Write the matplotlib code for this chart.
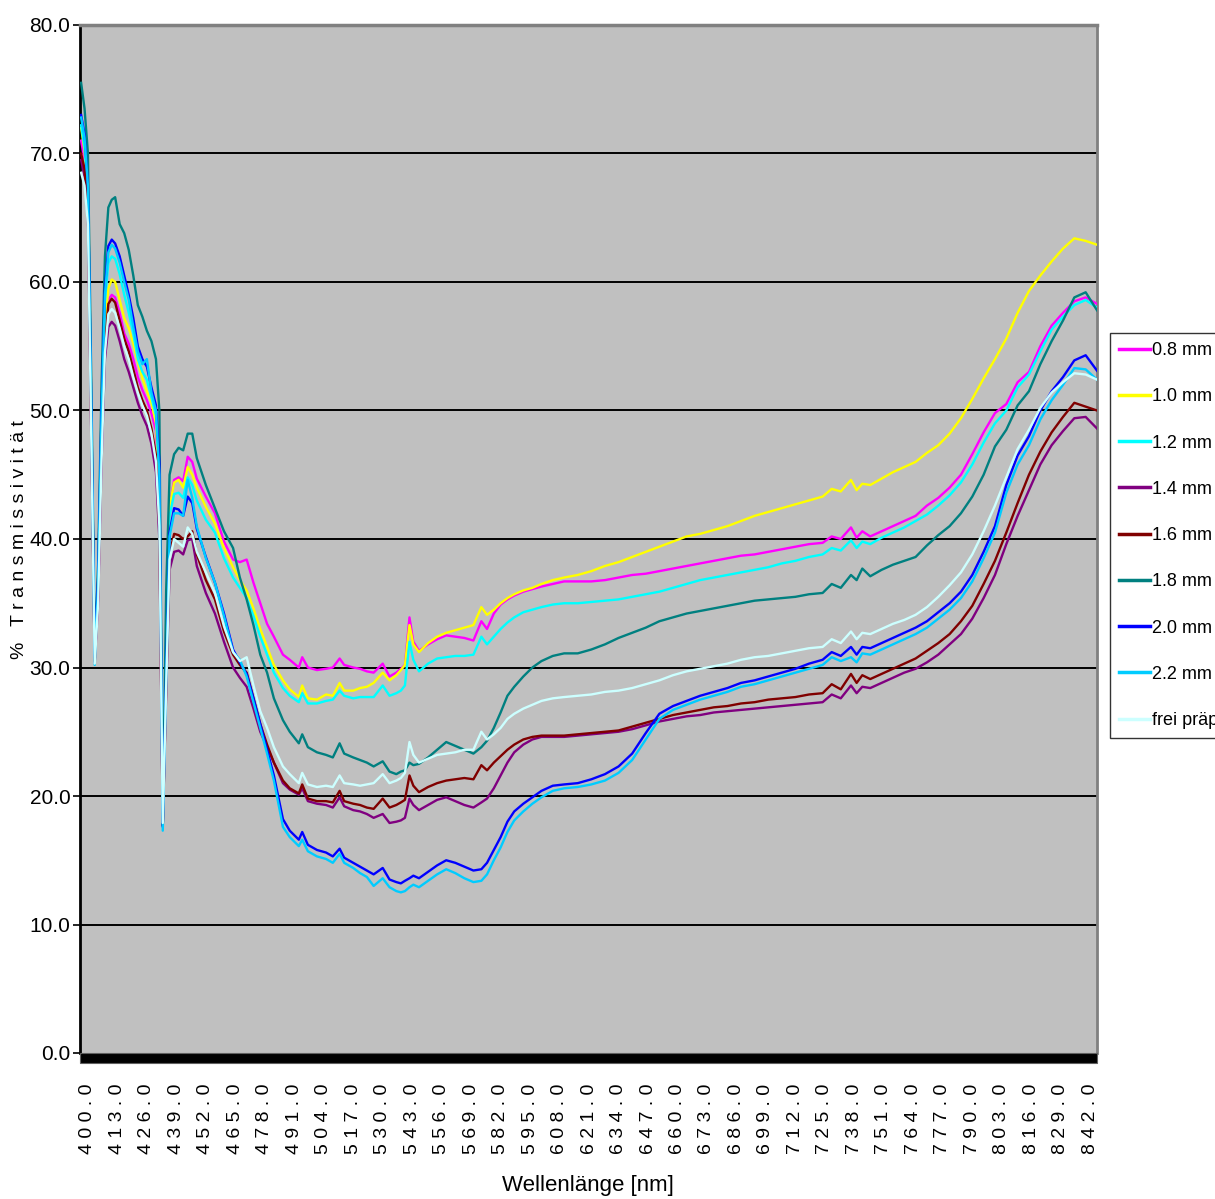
import matplotlib
matplotlib.use("Agg")
import matplotlib.pyplot as plt
from matplotlib.patches import Rectangle

SANS = ['Liberation Sans', 'DejaVu Sans']

# wavelength sample points [nm]
wavelength = [
    397, 398.5, 400, 401.5, 403, 404.5, 406, 407.5, 409, 410.5,
    412, 414, 416, 418, 420, 422, 424, 426, 428, 430,
    431.5, 433, 434.5, 436, 438, 440, 442, 444, 446, 448,
    452, 456, 460, 464, 467, 470, 473, 476, 479, 482,
    486, 489, 493, 494.5, 497, 501, 505, 508, 511, 513,
    517, 520, 523, 526, 530, 533, 536, 538, 539.8, 541.8,
    543.5, 546, 550, 554, 558, 562, 566, 570, 573.5, 576,
    579, 582, 585, 588, 592, 596, 600, 605, 610, 616,
    622, 628, 634, 640, 646, 652, 658, 664, 670, 676,
    682, 688, 694, 700, 706, 712, 718, 724, 728, 732,
    736.5, 739, 741.5, 745, 750, 755, 760, 765, 770, 775,
    780, 785, 790, 795, 800, 805, 810, 815, 820, 825,
    830, 835, 840, 845,
]

t_08 = [
    71.0, 69.5, 66.0, 48.5, 30.6, 35.5, 47.0, 55.5, 58.6, 59.0,
    58.8, 57.6, 56.0, 55.2, 54.0, 52.6, 51.6, 50.8, 49.8, 48.4,
    43.0, 17.7, 31.0, 42.5, 44.6, 44.8, 44.5, 46.4, 46.0, 44.7,
    43.3, 42.0, 39.8, 38.4, 38.2, 38.4, 36.6, 35.0, 33.4, 32.4,
    31.0, 30.6, 30.0, 30.8, 30.0, 29.8, 29.9, 30.0, 30.7, 30.2,
    30.0, 29.9, 29.7, 29.6, 30.3, 29.3, 29.6, 29.9, 30.2, 33.9,
    32.0, 31.3, 31.8, 32.2, 32.5, 32.4, 32.3, 32.1, 33.6, 33.0,
    34.2, 34.9, 35.3, 35.6, 35.9, 36.1, 36.3, 36.5, 36.7, 36.7,
    36.7, 36.8, 37.0, 37.2, 37.3, 37.5, 37.7, 37.9, 38.1, 38.3,
    38.5, 38.7, 38.8, 39.0, 39.2, 39.4, 39.6, 39.7, 40.2, 40.0,
    40.9, 40.1, 40.6, 40.2, 40.6, 41.0, 41.4, 41.8, 42.6, 43.2,
    44.0, 45.0, 46.6, 48.3, 49.8, 50.5, 52.2, 53.0, 55.0, 56.6,
    57.6, 58.5, 58.8, 58.3,
]
t_10 = [
    72.0, 70.2, 66.5, 49.0, 30.6, 36.0, 48.0, 56.5, 59.5, 60.2,
    60.0, 58.6, 57.2, 56.4, 55.2, 53.8, 52.5, 51.5, 50.6, 49.0,
    44.0, 17.7, 31.0, 42.5, 44.4, 44.6, 44.0, 45.6, 45.0, 44.0,
    42.5, 41.2, 39.3, 37.8, 36.8, 36.0, 34.6, 33.0, 31.6, 30.2,
    29.0, 28.3, 27.7, 28.6, 27.6, 27.5, 27.9, 27.8, 28.8, 28.2,
    28.2, 28.4, 28.5, 28.8, 29.6, 29.0, 29.4, 29.8, 30.2, 33.3,
    31.8, 31.2, 31.9, 32.4, 32.7, 32.9, 33.1, 33.3, 34.7, 34.1,
    34.5, 35.0, 35.4, 35.7, 36.0, 36.2, 36.5, 36.8, 37.0, 37.2,
    37.5, 37.9, 38.2, 38.6, 39.0, 39.4, 39.8, 40.2, 40.4, 40.7,
    41.0, 41.4, 41.8, 42.1, 42.4, 42.7, 43.0, 43.3, 43.9, 43.7,
    44.6, 43.8, 44.3, 44.2, 44.7, 45.2, 45.6, 46.0, 46.7, 47.3,
    48.2, 49.4, 50.9, 52.5, 54.0, 55.6, 57.6, 59.3, 60.5, 61.6,
    62.6, 63.4, 63.2, 62.9,
]
t_12 = [
    72.2, 70.5, 67.0, 49.5, 30.6, 36.5, 49.0, 58.5, 61.5, 62.0,
    61.8, 60.6, 59.0, 57.6, 56.0, 54.0, 53.0, 52.4, 51.0, 49.6,
    45.0, 17.6, 30.5, 41.8, 43.5, 43.6, 43.2, 44.8, 44.2, 43.0,
    41.5, 40.5, 38.5, 37.0, 36.2, 35.4, 34.0, 32.4, 31.0, 29.6,
    28.4, 27.8, 27.3, 28.0, 27.2, 27.2, 27.4, 27.5, 28.2, 27.8,
    27.6, 27.7, 27.7, 27.7, 28.6, 27.8, 28.0, 28.2, 28.6, 32.0,
    30.6, 29.7, 30.3, 30.7, 30.8, 30.9, 30.9, 31.0, 32.4, 31.8,
    32.4, 33.0, 33.5, 33.9, 34.3, 34.5, 34.7, 34.9, 35.0, 35.0,
    35.1, 35.2, 35.3, 35.5, 35.7, 35.9, 36.2, 36.5, 36.8, 37.0,
    37.2, 37.4, 37.6, 37.8, 38.1, 38.3, 38.6, 38.8, 39.3, 39.1,
    39.9, 39.3, 39.8, 39.6, 40.1, 40.5, 40.9, 41.4, 41.9, 42.6,
    43.4, 44.4, 45.8, 47.5, 49.0, 50.0, 51.8, 52.8, 54.6, 56.3,
    57.3, 58.2, 58.6, 58.0,
]
t_14 = [
    69.5, 68.2, 65.0, 47.5, 30.4, 35.0, 46.0, 54.0, 56.5, 56.9,
    56.6, 55.4, 54.0, 53.0, 51.8, 50.6, 49.6, 48.8, 47.4, 45.2,
    40.0, 17.7, 28.0, 37.6, 39.0, 39.1, 38.8, 39.9, 40.0, 37.9,
    35.8, 34.2, 32.0, 30.0, 29.2, 28.5, 26.8, 25.0, 23.8, 22.6,
    21.0, 20.5, 20.1, 20.6, 19.6, 19.4, 19.3, 19.1, 19.9, 19.2,
    18.9, 18.8, 18.6, 18.3, 18.6, 17.9, 18.0, 18.1, 18.3, 19.8,
    19.3, 18.9, 19.3, 19.7, 19.9, 19.6, 19.3, 19.1, 19.5, 19.8,
    20.6, 21.6, 22.6, 23.4, 24.0, 24.4, 24.6, 24.6, 24.6, 24.7,
    24.8, 24.9, 25.0, 25.2, 25.5, 25.8, 26.0, 26.2, 26.3, 26.5,
    26.6, 26.7, 26.8, 26.9, 27.0, 27.1, 27.2, 27.3, 27.9, 27.6,
    28.6, 28.0, 28.5, 28.4, 28.8, 29.2, 29.6, 29.9, 30.4, 31.0,
    31.8, 32.6, 33.8, 35.4, 37.2, 39.6, 41.8, 43.8, 45.8, 47.3,
    48.4, 49.4, 49.5, 48.6,
]
t_16 = [
    70.0, 68.8, 65.5, 48.0, 30.5, 35.5, 47.0, 55.0, 58.3, 58.7,
    58.4, 57.0, 55.6, 54.6, 53.2, 51.8, 50.8, 50.0, 48.6, 46.5,
    41.0, 17.7, 28.5, 38.8, 40.4, 40.3, 40.0, 40.2, 40.6, 38.8,
    36.8, 35.3, 32.8, 31.0, 30.2, 29.6, 27.6, 25.6, 24.0, 22.6,
    21.2, 20.6, 20.2, 20.9, 19.8, 19.6, 19.6, 19.5, 20.4, 19.6,
    19.4, 19.3, 19.1, 19.0, 19.8, 19.1, 19.3, 19.5, 19.7, 21.6,
    20.8, 20.3, 20.7, 21.0, 21.2, 21.3, 21.4, 21.3, 22.4, 22.0,
    22.6, 23.1, 23.6, 24.0, 24.4, 24.6, 24.7, 24.7, 24.7, 24.8,
    24.9, 25.0, 25.1, 25.4, 25.7, 26.0, 26.3, 26.5, 26.7, 26.9,
    27.0, 27.2, 27.3, 27.5, 27.6, 27.7, 27.9, 28.0, 28.7, 28.3,
    29.5, 28.8, 29.4, 29.1, 29.5, 29.9, 30.3, 30.7, 31.3, 31.9,
    32.6, 33.6, 34.8, 36.5, 38.3, 40.5, 42.8, 45.0, 46.8, 48.3,
    49.5, 50.6, 50.3, 50.0,
]
t_18 = [
    75.5, 73.5, 70.0, 52.0, 31.0, 38.0, 52.0, 62.0, 65.8, 66.4,
    66.6, 64.5, 63.8, 62.5, 60.5, 58.2, 57.3, 56.2, 55.4, 54.0,
    50.0, 17.8, 36.0, 45.0, 46.6, 47.1, 46.9, 48.2, 48.2, 46.3,
    44.2, 42.4, 40.6, 39.3, 37.0, 35.3, 33.3, 31.0, 29.6, 27.6,
    25.9, 25.0, 24.1, 24.8, 23.8, 23.4, 23.2, 23.0, 24.1, 23.3,
    23.0, 22.8, 22.6, 22.3, 22.7, 21.9, 21.7, 21.9, 22.0, 22.6,
    22.4, 22.5, 23.0, 23.6, 24.2, 23.9, 23.6, 23.3, 23.8, 24.3,
    25.3, 26.5, 27.8, 28.5, 29.3, 30.0, 30.5, 30.9, 31.1, 31.1,
    31.4, 31.8, 32.3, 32.7, 33.1, 33.6, 33.9, 34.2, 34.4, 34.6,
    34.8, 35.0, 35.2, 35.3, 35.4, 35.5, 35.7, 35.8, 36.5, 36.2,
    37.2, 36.8, 37.7, 37.1, 37.6, 38.0, 38.3, 38.6, 39.5, 40.3,
    41.0, 42.0, 43.3, 45.0, 47.2, 48.5, 50.4, 51.5, 53.6, 55.4,
    57.0, 58.8, 59.2, 57.8,
]
t_20 = [
    73.0, 71.5, 67.5, 50.0, 30.8, 37.0, 50.0, 59.5, 62.8, 63.3,
    63.0, 62.0, 60.5, 59.0, 57.2, 55.0, 54.0, 53.4, 51.8, 50.4,
    46.0, 17.6, 29.5, 40.5, 42.4, 42.3, 41.8, 43.3, 42.8, 40.8,
    38.6, 36.6, 34.2, 31.4, 30.4, 29.5, 27.6, 25.6, 23.6, 21.6,
    18.2, 17.3, 16.6, 17.2, 16.2, 15.8, 15.6, 15.3, 15.9, 15.2,
    14.8, 14.5, 14.2, 13.9, 14.4, 13.5, 13.3, 13.2, 13.4, 13.6,
    13.8, 13.6, 14.1, 14.6, 15.0, 14.8, 14.5, 14.2, 14.3, 14.8,
    15.8, 16.8, 18.0, 18.8, 19.4, 19.9, 20.4, 20.8, 20.9, 21.0,
    21.3, 21.7, 22.3, 23.3, 24.9, 26.4, 27.0, 27.4, 27.8, 28.1,
    28.4, 28.8, 29.0, 29.3, 29.6, 29.9, 30.3, 30.6, 31.2, 30.9,
    31.6, 31.0, 31.6, 31.5, 31.9, 32.3, 32.7, 33.1, 33.6, 34.3,
    35.0, 35.9, 37.2, 39.0, 41.0, 44.2, 46.5, 48.0, 50.0, 51.5,
    52.6, 53.9, 54.3, 53.1,
]
t_22 = [
    72.8, 71.2, 67.5, 50.0, 30.2, 36.5, 49.5, 59.0, 62.3, 62.9,
    62.6, 61.5, 60.0, 58.6, 56.5, 54.6, 53.6, 54.0, 51.4, 50.0,
    45.0, 17.3, 29.0, 40.2, 42.0, 42.0, 41.8, 44.6, 43.2, 41.0,
    38.5, 36.6, 34.0, 31.2, 30.6, 29.3, 27.3, 25.3, 23.3, 21.2,
    17.6, 16.8, 16.1, 16.6, 15.7, 15.3, 15.1, 14.8, 15.5, 14.8,
    14.4, 14.0, 13.7, 13.0, 13.6, 12.9, 12.6, 12.5, 12.6, 12.9,
    13.1, 12.9, 13.4, 13.9, 14.3, 14.0, 13.6, 13.3, 13.4, 13.9,
    15.0, 16.0, 17.2, 18.1, 18.8, 19.4, 19.9, 20.4, 20.6, 20.7,
    20.9, 21.2, 21.8, 22.8, 24.4, 26.0, 26.7, 27.1, 27.5, 27.8,
    28.1, 28.5, 28.7, 29.0, 29.3, 29.6, 29.9, 30.2, 30.8, 30.5,
    30.8, 30.4, 31.1, 31.0, 31.4, 31.8, 32.2, 32.6, 33.1, 33.8,
    34.5, 35.4, 36.7, 38.5, 40.5, 43.6, 45.8, 47.3, 49.3, 50.8,
    52.0, 53.3, 53.2, 52.4,
]
t_frei = [
    68.5, 67.5, 64.5, 47.5, 30.3, 35.0, 46.0, 54.5, 57.5, 57.9,
    57.6, 56.4, 55.0, 54.0, 52.6, 51.4, 50.4, 49.6, 48.2, 46.0,
    41.0, 17.9, 28.5, 38.4, 40.0, 39.7, 39.4, 40.9, 40.4, 39.0,
    37.4, 35.8, 33.2, 31.2, 30.5, 30.8, 28.6, 26.6, 25.3, 23.8,
    22.3, 21.7, 21.0, 21.8, 20.9, 20.7, 20.8, 20.7, 21.6, 21.0,
    20.9, 20.8, 20.9, 21.0, 21.7, 21.0, 21.2, 21.4, 21.8, 24.2,
    23.2, 22.6, 22.9, 23.2, 23.3, 23.4, 23.6, 23.6, 25.0, 24.4,
    24.8, 25.3, 26.0, 26.4, 26.8, 27.1, 27.4, 27.6, 27.7, 27.8,
    27.9, 28.1, 28.2, 28.4, 28.7, 29.0, 29.4, 29.7, 29.9, 30.1,
    30.3, 30.6, 30.8, 30.9, 31.1, 31.3, 31.5, 31.6, 32.2, 31.9,
    32.8, 32.2, 32.7, 32.6, 33.0, 33.4, 33.7, 34.1, 34.7, 35.5,
    36.4, 37.4, 38.8, 40.6, 42.6, 44.8, 47.0, 48.5, 50.2, 51.4,
    52.2, 52.9, 52.8, 52.4,
]

labels = ["0.8 mm", "1.0 mm", "1.2 mm", "1.4 mm", "1.6 mm",
          "1.8 mm", "2.0 mm", "2.2 mm", "frei präp"]
colors = ["#FF00FF", "#FFFF00", "#00FFFF", "#800080", "#800000",
          "#008080", "#0000FF", "#00CCFF", "#CCFFFF"]
series = [t_08, t_10, t_12, t_14, t_16, t_18, t_20, t_22, t_frei]

xtick_values = list(range(400, 843, 13))
ytick_values = [0, 10, 20, 30, 40, 50, 60, 70, 80]

W, H = 1215, 1199
fig = plt.figure(figsize=(W / 100, H / 100), dpi=100)
fig.patch.set_facecolor("white")

ax_l, ax_r, ax_t, ax_b = 80, 1097, 25, 1053
ax = fig.add_axes([ax_l / W, 1 - ax_b / H, (ax_r - ax_l) / W, (ax_b - ax_t) / H])
ax.set_facecolor("#C0C0C0")

for yv in ytick_values[1:-1]:
    ax.axhline(yv, color="black", lw=1.4, zorder=1)

for lab, col, vals in zip(labels, colors, series):
    ax.plot(wavelength, vals, color=col, lw=1.7, label=lab, zorder=3)

ax.set_xlim(396.5, 845)
ax.set_ylim(0, 80)

ax.set_yticks(ytick_values)
ax.set_yticklabels([f"{v:.1f}" for v in ytick_values], family=SANS, fontsize=15)
ax.tick_params(axis="y", direction="out", length=5, width=1.2, pad=2)

ax.set_xticks(xtick_values)
ax.set_xticklabels([" ".join(f"{v:.1f}") for v in xtick_values],
                   rotation=90, fontsize=14, family=SANS)
ax.tick_params(axis="x", length=0, pad=22)

ax.spines["left"].set_color("black")
ax.spines["left"].set_linewidth(2)
ax.spines["top"].set_color("#808080")
ax.spines["top"].set_linewidth(2.5)
ax.spines["right"].set_color("#808080")
ax.spines["right"].set_linewidth(2)
ax.spines["bottom"].set_visible(False)

# black floor under the plot area
fig.patches.append(Rectangle((ax_l / W, 1 - 1063 / H), (ax_r - ax_l) / W, 10 / H,
                             transform=fig.transFigure, facecolor="black",
                             edgecolor="#606060", lw=0.8, zorder=5))

fig.text(588 / W, 1 - 1185 / H, "Wellenlänge [nm]", ha="center", va="center",
         family=SANS, fontsize=16)
fig.text(20 / W, 1 - 540 / H, "%   T r a n s m i s s i v i t ä t", rotation=90,
         ha="center", va="center", family=SANS, fontsize=14)

leg = fig.legend(loc="upper left", bbox_to_anchor=(1110 / W, 1 - 333 / H),
                 prop={"family": SANS, "size": 13}, frameon=True, fancybox=False,
                 handlelength=1.7, handletextpad=0.1, labelspacing=1.62,
                 borderpad=0.5, borderaxespad=0)
leg.get_frame().set_edgecolor("black")
leg.get_frame().set_linewidth(1)
for line in leg.get_lines():
    line.set_linewidth(2.5)

fig.savefig("out.png", dpi=100)
